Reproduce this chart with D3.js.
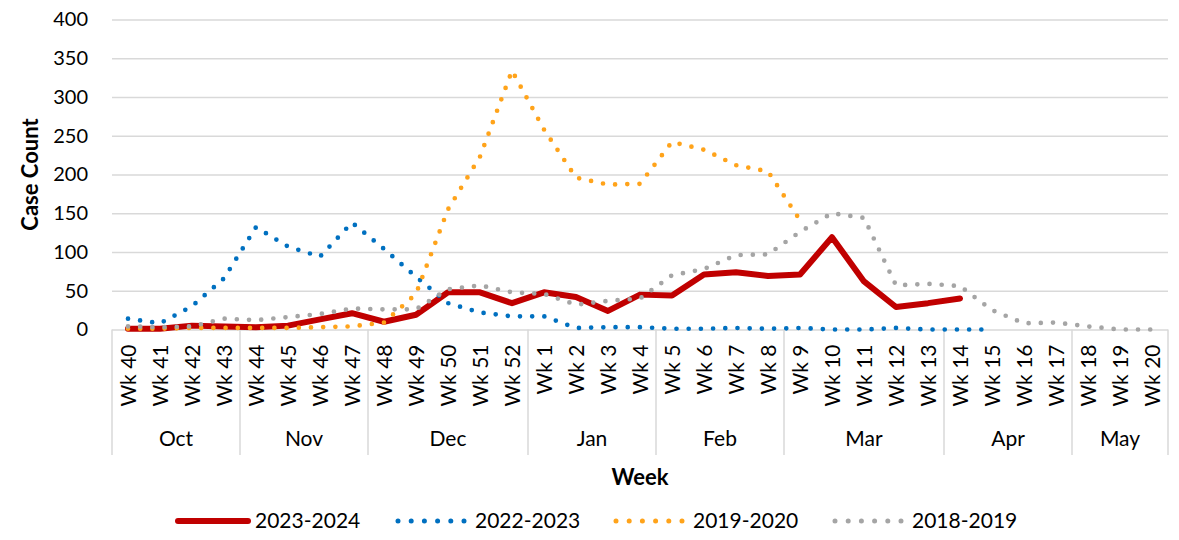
<!DOCTYPE html>
<html>
<head>
<meta charset="utf-8">
<script src="https://cdn.jsdelivr.net/npm/d3@7"></script>
<style>
  body { margin: 0; background: #fff; }
  text { font-family: Lato, "Open Sans", sans-serif; fill: #000; }
</style>
</head>
<body>
<svg id="chart" width="1179" height="540"></svg>
<script>
// week categories, Oct -> May
var weeks = ["Wk 40","Wk 41","Wk 42","Wk 43","Wk 44","Wk 45","Wk 46","Wk 47","Wk 48","Wk 49","Wk 50","Wk 51","Wk 52",
             "Wk 1","Wk 2","Wk 3","Wk 4","Wk 5","Wk 6","Wk 7","Wk 8","Wk 9","Wk 10","Wk 11","Wk 12","Wk 13","Wk 14",
             "Wk 15","Wk 16","Wk 17","Wk 18","Wk 19","Wk 20"];
var monthNames = ["Oct","Nov","Dec","Jan","Feb","Mar","Apr","May"];
var monthWeeks = [4, 4, 5, 4, 4, 5, 4, 3];
var yTicks = [0, 50, 100, 150, 200, 250, 300, 350, 400];

var seriesNames = ["2023-2024", "2022-2023", "2019-2020", "2018-2019"];
var s2324 = [1, 1, 5, 4, 3, 5, 13, 21, 10, 19, 48, 48, 34, 48, 42, 24, 45, 44, 71, 74, 69, 71, 119, 62, 29, 34, 40];
var s2223 = [14, 8, 30, 66, 132, 107, 94, 138, 104, 68, 34, 22, 17, 17, 2, 3, 3, 1, 1, 2, 1, 2, 0, 0, 2, 0, 0, 0];
var s1920 = [1, 1, 2, 2, 2, 2, 3, 4, 9, 46, 155, 223, 334, 258, 196, 187, 188, 242, 232, 212, 204, 141];
var s1819 = [4, 3, 4, 14, 12, 16, 20, 27, 26, 26, 52, 57, 48, 46, 32, 37, 40, 70, 78, 96, 97, 126, 150, 144, 57, 59, 56, 25, 8, 9, 4, 0, 0];

(function(){
  var seriesStyle = [
    { values: s2324, color: "#c00000", width: 6,   dash: null },
    { values: s2223, color: "#0070c0", width: 4.7, dash: "0 12.2" },
    { values: s1920, color: "#ffa31a", width: 4.7, dash: "0 12.2" },
    { values: s1819, color: "#a5a5a5", width: 4.7, dash: "0 12.2" }
  ];

  var svg = d3.select("#chart");
  var plotL = 112, plotR = 1168, plotT = 19.5, plotB = 329.5;
  var gridColor = "#d9d9d9";

  var x = d3.scaleBand().domain(weeks).range([plotL, plotR]).padding(0);
  var y = d3.scaleLinear().domain([0, 400]).range([plotB, plotT]);
  var cx = function(i){ return x(weeks[i]) + x.bandwidth() / 2; };

  // y axis + gridlines
  var yAxis = svg.append("g")
      .attr("transform", "translate(" + plotL + ",0)")
      .call(d3.axisLeft(y).tickValues(yTicks).tickSize(-(plotR - plotL)).tickPadding(24));
  yAxis.select(".domain").remove();
  yAxis.selectAll("line").attr("stroke", gridColor).attr("stroke-width", 1.5);
  yAxis.selectAll("text").attr("font-size", 20).attr("fill", "#000").attr("font-family", null);

  // x axis: week labels
  var xAxis = svg.append("g")
      .attr("transform", "translate(0," + plotB + ")")
      .call(d3.axisBottom(x).tickSize(0));
  xAxis.select(".domain").remove();
  xAxis.selectAll("text")
      .attr("font-size", 21)
      .attr("fill", "#000")
      .attr("text-anchor", "end")
      .attr("transform", "rotate(-90)")
      .attr("x", -15)
      .attr("y", 0)
      .attr("dy", "0.36em");
  yAxis.attr("font-family", null);
  xAxis.attr("font-family", null);

  // month groups
  var bounds = [0];
  monthWeeks.forEach(function(n, i){ bounds.push(bounds[i] + n); });
  var edgeX = function(b){ return b < weeks.length ? x(weeks[b]) : plotR; };

  svg.append("g").selectAll("line")
      .data(bounds)
      .enter().append("line")
      .attr("x1", edgeX).attr("x2", edgeX)
      .attr("y1", plotB).attr("y2", 455)
      .attr("stroke", gridColor).attr("stroke-width", 1.5);

  svg.append("g").selectAll("text")
      .data(monthNames)
      .enter().append("text")
      .attr("x", function(d, i){ return (edgeX(bounds[i]) + edgeX(bounds[i + 1])) / 2; })
      .attr("y", 446)
      .attr("text-anchor", "middle")
      .attr("font-size", 21)
      .text(function(d){ return d; });

  // axis titles
  svg.append("text")
      .attr("x", (plotL + plotR) / 2).attr("y", 485)
      .attr("text-anchor", "middle")
      .attr("font-size", 22).attr("font-weight", "bold")
      .text("Week");
  svg.append("text")
      .attr("transform", "translate(38," + (plotT + plotB) / 2 + ") rotate(-90)")
      .attr("text-anchor", "middle")
      .attr("font-size", 22).attr("font-weight", "bold")
      .text("Case Count");

  // lines
  var line = d3.line()
      .defined(function(d){ return d != null; })
      .x(function(d, i){ return cx(i); })
      .y(function(d){ return y(d); });

  seriesStyle.forEach(function(s){
    svg.append("path")
        .datum(s.values)
        .attr("d", line)
        .attr("fill", "none")
        .attr("stroke", s.color)
        .attr("stroke-width", s.width)
        .attr("stroke-linecap", "round")
        .attr("stroke-linejoin", "round")
        .attr("stroke-dasharray", s.dash);
  });

  // legend
  var legendX = [178, 398, 616, 835];
  var legend = svg.append("g").attr("transform", "translate(0,521)");
  seriesStyle.forEach(function(s, i){
    var g = legend.append("g").attr("transform", "translate(" + legendX[i] + ",0)");
    g.append("line")
        .attr("x1", 0).attr("x2", s.dash ? 66 : 70)
        .attr("stroke", s.color)
        .attr("stroke-width", s.dash ? 5 : 6)
        .attr("stroke-linecap", "round")
        .attr("stroke-dasharray", s.dash ? "0 13.2" : null);
    g.append("text")
        .attr("x", 77).attr("y", 0).attr("dy", "0.35em")
        .attr("font-size", 21)
        .text(seriesNames[i]);
  });
})();
</script>
</body>
</html>
